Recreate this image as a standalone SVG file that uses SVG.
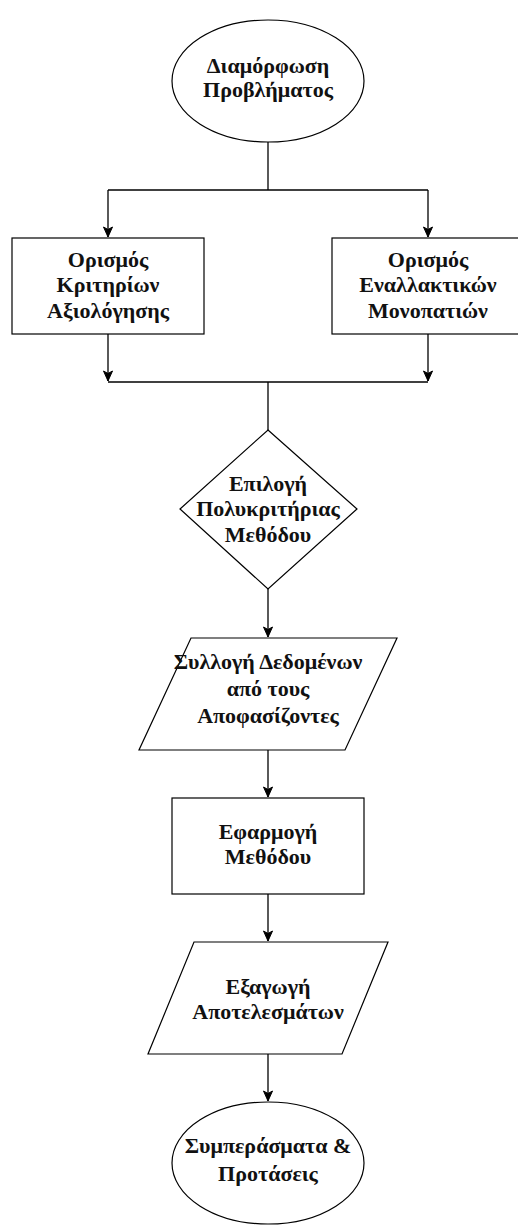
<svg xmlns="http://www.w3.org/2000/svg" width="518" height="1227" viewBox="0 0 518 1227">
<defs>
<marker id="arr" markerUnits="userSpaceOnUse" markerWidth="12" markerHeight="12" viewBox="0 0 12 12" refX="11" refY="6" orient="auto">
<path d="M1,1.5 L11,6 L1,10.5 L3.5,6 Z" fill="#000" stroke="#000" stroke-width="1"/>
</marker>
</defs>
<style>
.shape{fill:#fff;stroke:#000;stroke-width:1.2}
.lbl{font-family:"Liberation Serif","Times New Roman",serif;font-weight:bold;font-size:22px;text-anchor:middle;fill:#111}
.con{fill:none;stroke:#000;stroke-width:1.3}
</style>
<rect width="518" height="1227" fill="#fff"/>
<g id="connectors">
<path class="con" d="M268,142 V190"/>
<path class="con" d="M108,190 H428"/>
<path class="con" d="M108,190 V237" marker-end="url(#arr)"/>
<path class="con" d="M428,190 V237" marker-end="url(#arr)"/>
<path class="con" d="M108,334 V381" marker-end="url(#arr)"/>
<path class="con" d="M428,334 V381" marker-end="url(#arr)"/>
<path class="con" d="M108,382 H428"/>
<path class="con" d="M268,382 V430"/>
<path class="con" d="M268,589 V637" marker-end="url(#arr)"/>
<path class="con" d="M268,750 V797" marker-end="url(#arr)"/>
<path class="con" d="M268,894 V941" marker-end="url(#arr)"/>
<path class="con" d="M268,1054 V1101" marker-end="url(#arr)"/>
</g>
<g id="start">
<ellipse class="shape" cx="268" cy="81" rx="96" ry="61"/>
<text class="lbl" x="268" y="73">Διαμόρφωση</text>
<text class="lbl" x="268" y="97">Προβλήματος</text>
</g>
<g id="criteria">
<rect class="shape" x="12" y="238" width="192" height="96"/>
<text class="lbl" x="108" y="267">Ορισμός</text>
<text class="lbl" x="108" y="292">Κριτηρίων</text>
<text class="lbl" x="108" y="318">Αξιολόγησης</text>
</g>
<g id="alternatives">
<rect class="shape" x="332" y="238" width="192" height="96"/>
<text class="lbl" x="428" y="267">Ορισμός</text>
<text class="lbl" x="428" y="292">Εναλλακτικών</text>
<text class="lbl" x="428" y="318">Μονοπατιών</text>
</g>
<g id="method">
<polygon class="shape" points="268,430 357,509 268,589 180,509"/>
<text class="lbl" x="268" y="491">Επιλογή</text>
<text class="lbl" x="268" y="516">Πολυκριτήριας</text>
<text class="lbl" x="268" y="542">Μεθόδου</text>
</g>
<g id="collect">
<polygon class="shape" points="191,638 397,638 345,750 139,750"/>
<text class="lbl" x="268" y="669">Συλλογή Δεδομένων</text>
<text class="lbl" x="268" y="696">από τους</text>
<text class="lbl" x="268" y="723">Αποφασίζοντες</text>
</g>
<g id="apply">
<rect class="shape" x="172" y="798" width="192" height="96"/>
<text class="lbl" x="268" y="839">Εφαρμογή</text>
<text class="lbl" x="268" y="864">Μεθόδου</text>
</g>
<g id="export">
<polygon class="shape" points="194,942 388,942 342,1054 148,1054"/>
<text class="lbl" x="268" y="994">Εξαγωγή</text>
<text class="lbl" x="268" y="1019">Αποτελεσμάτων</text>
</g>
<g id="end">
<ellipse class="shape" cx="268" cy="1163" rx="96" ry="61"/>
<text class="lbl" x="268" y="1153">Συμπεράσματα &amp;</text>
<text class="lbl" x="268" y="1181">Προτάσεις</text>
</g>
</svg>
